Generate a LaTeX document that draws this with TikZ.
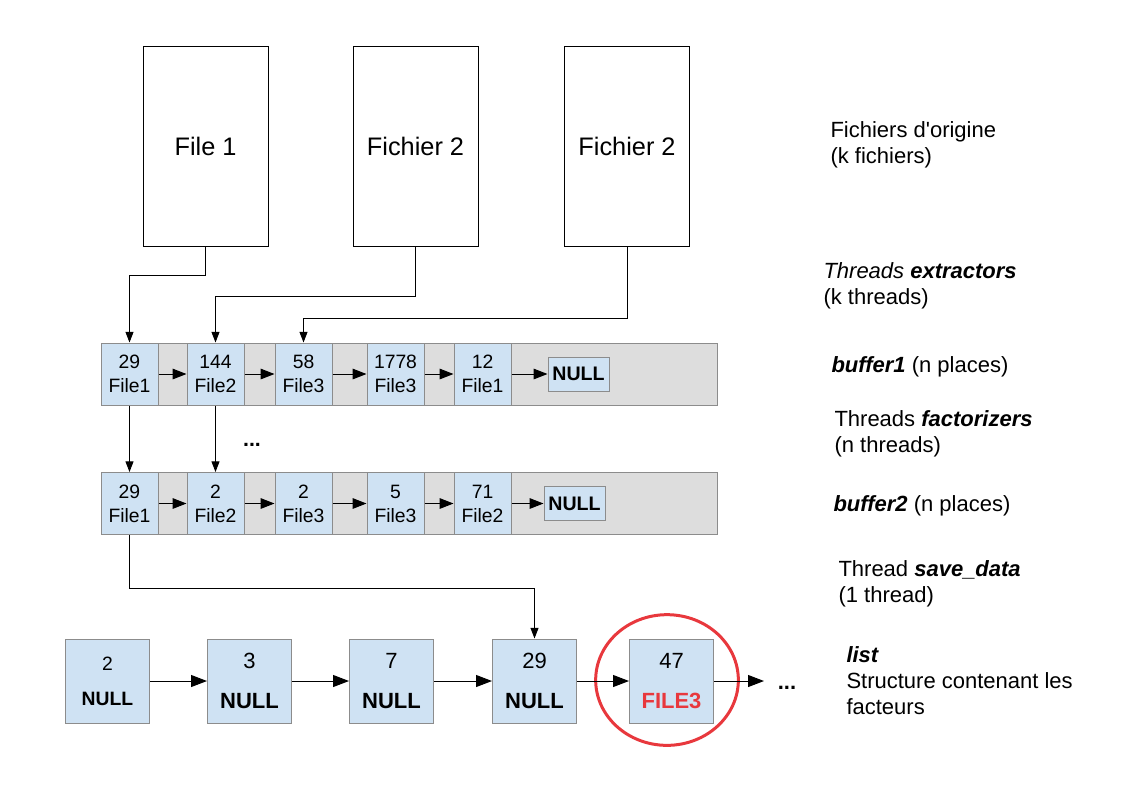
\documentclass[tikz,border=0pt]{standalone}
\usepackage{fontspec}
\setmainfont{Liberation Sans}
\usetikzlibrary{arrows.meta, positioning, shapes.geometric}

\definecolor{bleucase}{HTML}{CFE2F3}
\definecolor{grisfond}{HTML}{DDDDDD}
\definecolor{grisbord}{HTML}{8C8C8C}
\definecolor{rougecercle}{HTML}{E8383D}

\begin{document}
\begin{tikzpicture}[x=0.75pt, y=-0.75pt, line width=0.75pt, >={Triangle[length=8pt, width=6pt]}]
        % Styles des blocs
        \tikzstyle{fichier} = [draw, rectangle, minimum width=93.75pt, minimum height=150pt, font=\fontsize{19}{22}\selectfont]
        \tikzstyle{tampon} = [draw=grisbord, fill=grisfond, rectangle, minimum width=462pt, minimum height=46.5pt, inner sep=0pt]
        \tikzstyle{case} = [draw=grisbord, fill=bleucase, rectangle, minimum width=42.75pt, minimum height=46.5pt, inner sep=0pt, align=center, font=\fontsize{14.5}{18}\selectfont]
        \tikzstyle{vide} = [draw=grisbord, fill=bleucase, rectangle, minimum width=45.75pt, minimum height=25.5pt, inner sep=0pt, font=\fontsize{14.7}{17}\selectfont\bfseries]
        \tikzstyle{maillon} = [draw=grisbord, fill=bleucase, rectangle, minimum size=63pt, inner sep=0pt, align=center, font=\fontsize{16.5}{30}\selectfont]
        \tikzstyle{legende} = [anchor=west, align=left, inner sep=0pt, font=\fontsize{16.5}{19.5}\selectfont]
        \tikzstyle{suivant} = [-{Triangle[length=10.5pt, width=8pt]}]
        \tikzstyle{lien} = [-{Triangle[length=12pt, width=9pt]}]

        \useasboundingbox (0,0) rectangle (1123,794);

        % Fichiers d'origine
        \node [fichier] (f1) at (205.5,146) {File 1};
        \node [fichier] (f2) at (415.5,146) {Fichier 2};
        \node [fichier] (f3) at (627,146) {Fichier 2};

        % buffer1
        \node [tampon] (buf1) at (409,374) {};
        \node [case, anchor=west] (a1) at (buf1.west) {29\\File1};
        \node [case, right=21pt of a1] (a2) {144\\File2};
        \node [case, right=22.5pt of a2] (a3) {58\\File3};
        \node [case, right=25.5pt of a3] (a4) {1778\\File3};
        \node [case, right=21.75pt of a4] (a5) {12\\File1};
        \node [vide, right=27pt of a5] (nul1) {NULL};

        % buffer2
        \node [tampon] (buf2) at (409,503.5) {};
        \node [case, anchor=west] (c1) at (buf2.west) {29\\File1};
        \node [case, right=21pt of c1] (c2) {2\\File2};
        \node [case, right=22.5pt of c2] (c3) {2\\File3};
        \node [case, right=25.5pt of c3] (c4) {5\\File3};
        \node [case, right=21.75pt of c4] (c5) {71\\File2};
        \node [vide, right=24pt of c5] (nul2) {NULL};
        \node [font=\fontsize{16}{16}\selectfont\bfseries] (pts1) at (252,445) {...};

        % list
        \node [maillon, font=\fontsize{14.5}{26}\selectfont] (l1) at (107.5,681) {2\\\textbf{NULL}};
        \node [maillon, right=42.75pt of l1] (l2) {3\\\textbf{NULL}};
        \node [maillon, right=42.75pt of l2] (l3) {7\\\textbf{NULL}};
        \node [maillon, right=43.5pt of l3] (l4) {29\\\textbf{NULL}};
        \node [maillon, right=39pt of l4] (l5) {47\\\textcolor{rougecercle}{\textbf{FILE3}}};
        \node [ellipse, draw=rougecercle, line width=2.25pt, minimum width=107pt, minimum height=98pt] (cercle) at (667,680) {};
        \node [coordinate, right=37.5pt of l5] (fin) {};
        \node [font=\fontsize{16.5}{16.5}\selectfont\bfseries] (pts2) at (787,688) {...};

        % Legendes
        \node [legende] (t1) at (830,145) {Fichiers d\textquotesingle origine\\(k fichiers)};
        \node [legende] (t2) at (823,286) {\textit{Threads} \textbf{\textit{extractors}}\\(k threads)};
        \node [legende] (t3) at (831,367) {\textbf{\textit{buffer1}} (n places)};
        \node [legende] (t4) at (834,434) {Threads \textbf{\textit{factorizers}}\\(n threads)};
        \node [legende] (t5) at (833,506) {\textbf{\textit{buffer2}} (n places)};
        \node [legende] (t6) at (838,584) {Thread \textbf{\textit{save\_data}}\\(1 thread)};
        \node [legende] (t7) at (846,681) {\textbf{\textit{list}}\\Structure contenant les\\facteurs};

        % Connexions
        \draw [->] (f1.south) -- ++(0,29) -| (a1.north);
        \draw [->] (f2.south) -- ++(0,50) -| (a2.north);
        \draw [->] (f3.south) -- ++(0,72) -| (a3.north);
        \draw [suivant] (a1) -- (a2);
        \draw [suivant] (a2) -- (a3);
        \draw [suivant] (a3) -- (a4);
        \draw [suivant] (a4) -- (a5);
        \draw [suivant] (a5) -- (nul1);
        \draw [->] (a1) -- (c1);
        \draw [->] (a2) -- (c2);
        \draw [suivant] (c1) -- (c2);
        \draw [suivant] (c2) -- (c3);
        \draw [suivant] (c3) -- (c4);
        \draw [suivant] (c4) -- (c5);
        \draw [suivant] (c5) -- (nul2);
        \draw [->] (c1.south) -- ++(0,53) -| (l4.north);
        \draw [lien] (l1) -- (l2);
        \draw [lien] (l2) -- (l3);
        \draw [lien] (l3) -- (l4);
        \draw [lien] (l4) -- (l5);
        \draw [lien] (l5) -- (fin);
\end{tikzpicture}
\end{document}
